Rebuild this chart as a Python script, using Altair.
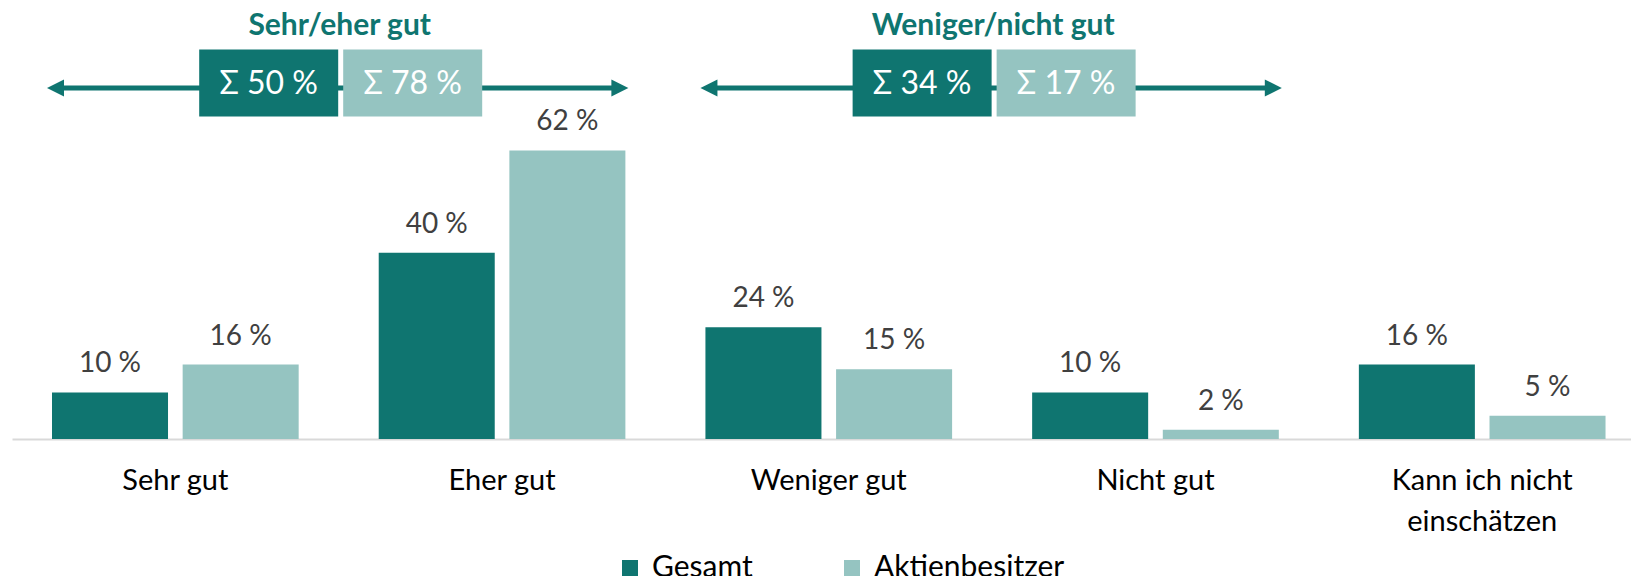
import altair as alt
import pandas as pd

# ---------------- data ----------------
categories = ["Sehr gut", "Eher gut", "Weniger gut", "Nicht gut", "Kann ich nicht einschätzen"]
series = ["Gesamt", "Aktienbesitzer"]
gesamt = [10, 40, 24, 10, 16]
aktien = [16, 62, 15, 2, 5]

group_titles = ["Sehr/eher gut", "Weniger/nicht gut"]
group_from = ["Sehr gut", "Weniger gut"]
group_to = ["Eher gut", "Nicht gut"]
sum_gesamt = [50, 34]
sum_aktien = [78, 17]

# ---------------- style ----------------
DARK = "#0f7570"
LIGHT = "#95c4c1"
FONT = "Lato"
W, H = 1619, 431
P_IN, P_OUT = 0.245, 0.1002
STEP = W / (len(categories) - P_IN + 2 * P_OUT)

rows = []
for c, g, a in zip(categories, gesamt, aktien):
    rows.append({"cat": c, "series": series[0], "value": g})
    rows.append({"cat": c, "series": series[1], "value": a})
df = pd.DataFrame(rows)
df["label"] = df["value"].astype(str) + " %"

ann = pd.DataFrame({"cat": group_from, "cat2": group_to, "title": group_titles,
                    "sg": sum_gesamt, "sa": sum_aktien})
ann["tg"] = "Σ " + ann["sg"].astype(str) + " %"
ann["ta"] = "Σ " + ann["sa"].astype(str) + " %"
ann_to = pd.DataFrame({"cat": group_to})

xscale = alt.Scale(domain=categories, paddingInner=P_IN, paddingOuter=P_OUT, align=0.611)
yscale = alt.Scale(domain=[0, 92.6], nice=False)

xaxis = alt.Axis(title=None, labelAngle=0, domainColor="#d9d9d9", domainWidth=2, ticks=False,
                 grid=False, labelFontSize=29, labelFont=FONT, labelColor="#000000",
                 labelPadding=27, labelLineHeight=41, labelLimit=400,
                 labelExpr="datum.value == 'Kann ich nicht einschätzen' ? ['Kann ich nicht', 'einschätzen'] : datum.label")

base = alt.Chart(df)
bars = base.mark_bar().encode(
    x=alt.X("cat:N", scale=xscale, axis=xaxis, sort=categories),
    xOffset=alt.XOffset("series:N", sort=series,
                        scale=alt.Scale(domain=series, paddingInner=0.112, paddingOuter=0)),
    y=alt.Y("value:Q", scale=yscale, axis=None),
    color=alt.Color("series:N", sort=series,
                    scale=alt.Scale(domain=series, range=[DARK, LIGHT]),
                    legend=alt.Legend(title=None, orient="none", legendX=603, legendY=545,
                                      direction="horizontal", columns=2, gridAlign="each",
                                      symbolType="square", symbolSize=256, symbolStrokeWidth=0,
                                      symbolOpacity=1, labelFontSize=30, labelFont=FONT,
                                      labelColor="#000000", columnPadding=84, labelOffset=7,
                                      labelLimit=400, padding=0)),
)
labels = base.mark_text(baseline="alphabetic", dy=-20, fontSize=28, font=FONT, color="#404040").encode(
    x=alt.X("cat:N", sort=categories),
    xOffset=alt.XOffset("series:N", sort=series),
    y=alt.Y("value:Q"),
    text="label:N",
)

abase = alt.Chart(ann)
arrow_line = abase.mark_rule(color=DARK, strokeWidth=5, xOffset=3.5, x2Offset=-5.5).encode(
    x=alt.X("cat:N", bandPosition=0),
    x2=alt.X2("cat2:N", bandPosition=1),
    y=alt.value(80),
)
LEFT_TRI = "M-1,0L1,-1L1,1Z"
RIGHT_TRI = "M1,0L-1,-1L-1,1Z"
head_l = abase.mark_point(shape=LEFT_TRI, size=289, filled=True, color=DARK, opacity=1,
                          strokeWidth=0, xOffset=3.5).encode(
    x=alt.X("cat:N", bandPosition=0), y=alt.value(80))
head_r = alt.Chart(ann_to).mark_point(shape=RIGHT_TRI, size=289, filled=True, color=DARK, opacity=1,
                                       strokeWidth=0, xOffset=-5.5).encode(
    x=alt.X("cat:N", bandPosition=1), y=alt.value(80))

BOX = "M-1,-0.482L1,-0.482L1,0.482L-1,0.482Z"
OFF_G = STEP / 2 - 70
OFF_A = STEP / 2 + 74
box_g = abase.mark_point(shape=BOX, size=139 * 139, filled=True, color=DARK, opacity=1,
                         strokeWidth=0, xOffset=OFF_G).encode(x=alt.X("cat:N"), y=alt.value(75))
box_a = abase.mark_point(shape=BOX, size=139 * 139, filled=True, color=LIGHT, opacity=1,
                         strokeWidth=0, xOffset=OFF_A).encode(x=alt.X("cat:N"), y=alt.value(75))
txt_g = abase.mark_text(font=FONT, fontSize=32, color="white", baseline="middle",
                        xOffset=OFF_G).encode(x=alt.X("cat:N"), y=alt.value(76), text="tg:N")
txt_a = abase.mark_text(font=FONT, fontSize=32, color="white", baseline="middle",
                        xOffset=OFF_A).encode(x=alt.X("cat:N"), y=alt.value(76), text="ta:N")
titles = abase.mark_text(font=FONT, fontSize=30, fontWeight="bold", color=DARK,
                         baseline="alphabetic", xOffset=STEP / 2 + 1).encode(
    x=alt.X("cat:N"), y=alt.value(27), text="title:N")

chart = alt.layer(bars, labels, arrow_line, head_l, head_r, box_g, box_a, txt_g, txt_a, titles).properties(
    width=W, height=H,
    autosize=alt.AutoSizeParams(type="none"),
    padding={"left": 4, "top": 0, "right": 0, "bottom": 568 - H},
).configure_view(stroke=None)

chart.save("out.html", embed_options={"renderer": "svg", "actions": False})
